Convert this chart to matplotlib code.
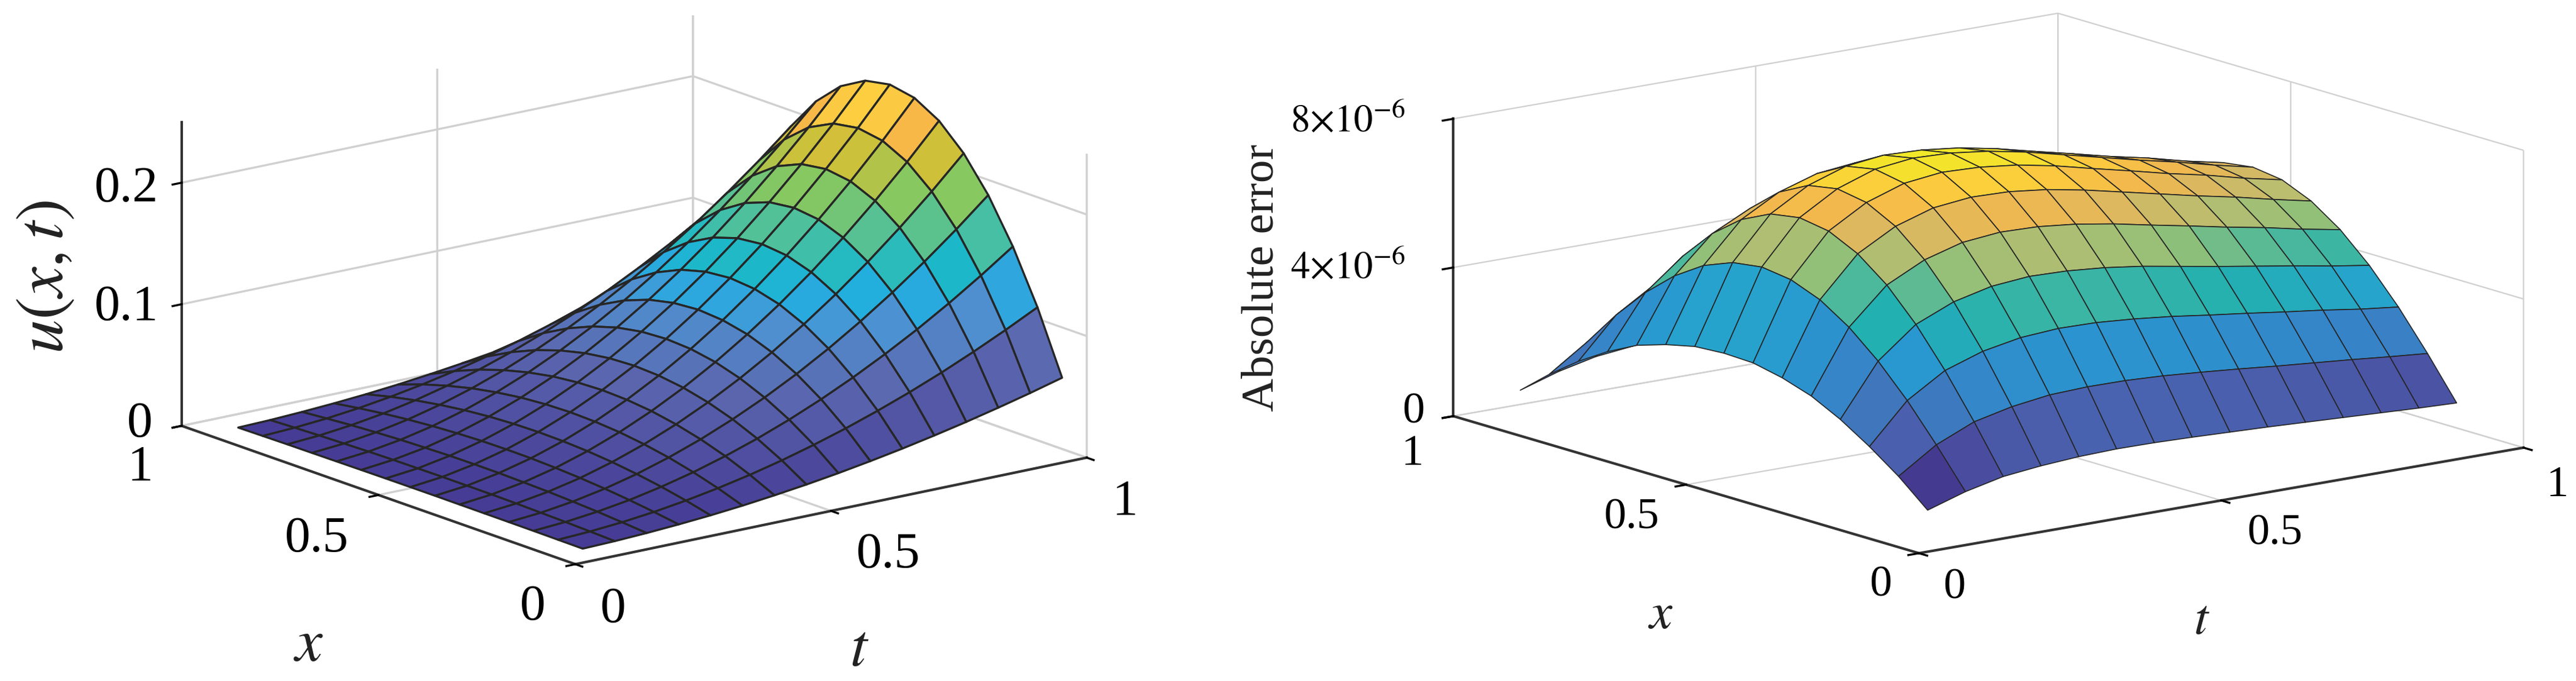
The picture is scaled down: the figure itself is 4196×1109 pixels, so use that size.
import numpy as np
import matplotlib
matplotlib.use("Agg")
import matplotlib.pyplot as plt
from matplotlib.colors import LinearSegmentedColormap
from matplotlib.transforms import offset_copy
from mpl_toolkits.mplot3d import proj3d

# ---------- data ----------
x_nodes = [1/16, 2/16, 3/16, 4/16, 5/16, 6/16, 7/16, 8/16, 9/16, 10/16, 11/16, 12/16, 13/16, 14/16, 15/16]
t_left = [1/16, 2/16, 3/16, 4/16, 5/16, 6/16, 7/16, 8/16, 9/16, 10/16, 11/16, 12/16, 13/16, 14/16, 15/16, 1.0]
t_right = t_left[:15]

u_values = [
 [.0002,.0004,.0006,.0007,.0008,.0009,.0010,.0010,.0010,.0009,.0008,.0007,.0006,.0004,.0002],
 [.0009,.0017,.0024,.0029,.0034,.0037,.0038,.0039,.0038,.0037,.0034,.0029,.0024,.0017,.0009],
 [.0021,.0038,.0054,.0066,.0076,.0082,.0087,.0088,.0087,.0082,.0076,.0066,.0054,.0038,.0021],
 [.0037,.0068,.0095,.0117,.0134,.0146,.0154,.0156,.0154,.0146,.0134,.0117,.0095,.0068,.0037],
 [.0057,.0107,.0149,.0183,.0210,.0229,.0240,.0244,.0240,.0229,.0210,.0183,.0149,.0107,.0057],
 [.0082,.0154,.0214,.0264,.0302,.0330,.0346,.0352,.0346,.0330,.0302,.0264,.0214,.0154,.0082],
 [.0112,.0209,.0292,.0359,.0411,.0449,.0471,.0479,.0471,.0449,.0411,.0359,.0292,.0209,.0112],
 [.0146,.0273,.0381,.0469,.0537,.0586,.0615,.0625,.0615,.0586,.0537,.0469,.0381,.0273,.0146],
 [.0185,.0346,.0482,.0593,.0680,.0742,.0779,.0791,.0779,.0742,.0680,.0593,.0482,.0346,.0185],
 [.0229,.0427,.0595,.0732,.0839,.0916,.0961,.0977,.0961,.0916,.0839,.0732,.0595,.0427,.0229],
 [.0277,.0517,.0720,.0886,.1015,.1108,.1163,.1182,.1163,.1108,.1015,.0886,.0720,.0517,.0277],
 [.0330,.0615,.0857,.1055,.1208,.1318,.1384,.1406,.1384,.1318,.1208,.1055,.0857,.0615,.0330],
 [.0387,.0722,.1005,.1238,.1418,.1547,.1625,.1650,.1625,.1547,.1418,.1238,.1005,.0722,.0387],
 [.0449,.0838,.1166,.1436,.1645,.1795,.1884,.1914,.1884,.1795,.1645,.1436,.1166,.0838,.0449],
 [.0515,.0962,.1339,.1648,.1888,.2060,.2163,.2197,.2163,.2060,.1888,.1648,.1339,.0962,.0515],
 [.0586,.1094,.1523,.1875,.2148,.2344,.2461,.2500,.2461,.2344,.2148,.1875,.1523,.1094,.0586],
]

err_values = [  # in units of 1e-6
 [.75,1.43,2.00,2.50,2.90,3.16,3.33,3.36,3.31,3.13,2.88,2.48,1.99,1.41,.75],
 [1.07,2.10,3.06,3.89,4.57,5.08,5.39,5.50,5.39,5.08,4.57,3.89,3.06,2.10,1.07],
 [1.30,2.54,3.69,4.70,5.53,6.14,6.52,6.65,6.52,6.14,5.53,4.70,3.69,2.54,1.30],
 [1.41,2.77,4.03,5.13,6.03,6.70,7.11,7.25,7.11,6.70,6.03,5.13,4.03,2.77,1.41],
 [1.48,2.91,4.22,5.37,6.32,7.02,7.45,7.60,7.45,7.02,6.32,5.37,4.22,2.91,1.48],
 [1.51,2.95,4.29,5.46,6.42,7.13,7.57,7.72,7.57,7.13,6.42,5.46,4.29,2.95,1.51],
 [1.50,2.94,4.27,5.43,6.39,7.10,7.53,7.68,7.53,7.10,6.39,5.43,4.27,2.94,1.50],
 [1.47,2.89,4.19,5.34,6.28,6.98,7.41,7.55,7.41,6.98,6.28,5.34,4.19,2.89,1.47],
 [1.43,2.81,4.08,5.20,6.11,6.79,7.21,7.35,7.21,6.79,6.11,5.20,4.08,2.81,1.43],
 [1.39,2.72,3.94,5.02,5.90,6.56,6.96,7.10,6.96,6.56,5.90,5.02,3.94,2.72,1.39],
 [1.34,2.62,3.81,4.84,5.70,6.33,6.72,6.85,6.72,6.33,5.70,4.84,3.81,2.62,1.34],
 [1.29,2.53,3.67,4.67,5.49,6.10,6.47,6.60,6.47,6.10,5.49,4.67,3.67,2.53,1.29],
 [1.24,2.44,3.54,4.50,5.30,5.89,6.25,6.37,6.25,5.89,5.30,4.50,3.54,2.44,1.24],
 [1.19,2.34,3.39,4.32,5.08,5.65,5.99,6.11,5.99,5.65,5.08,4.32,3.39,2.34,1.19],
 [1.15,2.25,3.27,4.16,4.89,5.43,5.77,5.88,5.77,5.43,4.89,4.16,3.27,2.25,1.15],
]

xy_ticks = [0, 0.5, 1]
xy_labels = ["0", "0.5", "1"]
z_ticks_left = [0, 0.1, 0.2]
z_labels_left = ["0", "0.1", "0.2"]
z_ticks_right = [0, 4e-6, 8e-6]
z_labels_right = ["0", r"$4{\times}10^{-6}$", r"$8{\times}10^{-6}$"]

# ---------- style ----------
W, H = 4196, 1109
DPI = 100
plt.rcParams["font.family"] = ["Liberation Serif", "DejaVu Serif"]
plt.rcParams["mathtext.fontset"] = "stix"
DARK = "#333333"

cmap_left = LinearSegmentedColormap.from_list("pl", [
    (0.0, "#463c95"), (.2, "#5b68b0"), (.336, "#4f90d0"), (.384, "#2fa6de"), (.42, "#22aee0"),
    (.468, "#1cb8c8"), (.536, "#45bfa5"), (.66, "#88c860"), (.76, "#d0c038"), (.824, "#f8b848"),
    (.88, "#fdd040"), (1.0, "#f0e828")])
cmap_right = LinearSegmentedColormap.from_list("pr", [
    (0.0, "#443a8f"), (.05, "#4a4ea0"), (.10, "#4a60ae"), (.18, "#4076bb"), (.25, "#3585c8"),
    (.325, "#2a95d0"), (.375, "#26a3cd"), (.45, "#22b0b0"), (.55, "#4cb89c"), (.62, "#90c078"),
    (.70, "#b8bd70"), (.77, "#dcb860"), (.83, "#f2b84d"), (.90, "#fcc93f"), (.95, "#f8dc30"),
    (1.0, "#f0e828")])


def style_axis(ax, grid_lw, line_lw):
    for axis in (ax.xaxis, ax.yaxis, ax.zaxis):
        axis.set_pane_color((1, 1, 1, 0))
        axis.pane.set_edgecolor("none")
        axis.line.set_color(DARK)
        axis.line.set_linewidth(line_lw)
        axis._axinfo["grid"].update(color="#d0d0d0", linewidth=grid_lw)
        axis._axinfo["tick"].update(inward_factor=0.22, outward_factor=0.0,
                                    linewidth={True: line_lw * 0.8, False: line_lw * 0.8}, color=DARK)


def fit_axes(ax, corners, targets):
    """Place the square 3D axes so that data corners land on the wanted pixels."""
    M = ax.get_proj()
    vx, vy, _ = proj3d.proj_transform(*np.array(corners, float).T, M)
    tx, ty = np.array(targets, float).T
    ty = H - ty
    xl, yl = ax.viewLim.intervalx, ax.viewLim.intervaly
    fx = (np.asarray(vx) - xl[0]) / (xl[1] - xl[0])
    fy = (np.asarray(vy) - yl[0]) / (yl[1] - yl[0])
    A = np.concatenate([np.c_[fx, np.ones_like(fx), np.zeros_like(fx)],
                        np.c_[fy, np.zeros_like(fy), np.ones_like(fy)]])
    b = np.concatenate([tx, ty])
    S, l, bt = np.linalg.lstsq(A, b, rcond=None)[0]
    ax.set_position([l / W, bt / H, S / W, S / H])


def nudge(fig, labels, shifts):
    """Shift tick labels by a few pixels to the place MATLAB gave them."""
    for lab, (dx, dy) in zip(labels, shifts):
        lab.set_transform(offset_copy(lab.get_transform(), fig=fig, x=dx, y=dy, units="dots"))
        lab.set_transform = lambda *_: None  # Axis3D resets it at every draw


def build(fig, X_vals, T_vals, Z_vals, norm_max, norm_min, cmap, zlim, ztick, zlab, view, aspect,
          corners_px, surf_lw, grid_lw, line_lw, tick_fs, pad):
    ax = fig.add_axes([0.1, 0.1, 300 / W, 300 / H], projection="3d", computed_zorder=False)
    ax.set_proj_type("ortho")
    X, T = np.meshgrid(X_vals, T_vals)
    Z = np.array(Z_vals, float)
    fc = cmap(np.clip((Z - norm_min) / (norm_max - norm_min), 0, 1))
    ax.plot_surface(T, X, Z, facecolors=fc, rstride=1, cstride=1, shade=False,
                    edgecolor="#262626", linewidth=surf_lw, antialiased=True)
    ax.set_xlim(0, 1, view_margin=0)
    ax.set_ylim(0, 1, view_margin=0)
    ax.set_zlim(zlim[0], zlim[1], view_margin=0)
    ax.view_init(elev=view[0], azim=view[1])
    ax.set_box_aspect(aspect)
    ax.set_xticks(xy_ticks, xy_labels, fontsize=tick_fs, ha="left")
    ax.set_yticks(xy_ticks, xy_labels, fontsize=tick_fs, ha="right")
    ax.set_zticks(ztick, zlab, fontsize=tick_fs, ha="right")
    ax.zaxis.set_ticks_position("upper")
    ax.tick_params(axis="both", pad=pad)
    style_axis(ax, grid_lw, line_lw)
    f, l, r, top = corners_px
    fit_axes(ax, [(0, 0, zlim[0]), (0, 1, zlim[0]), (1, 0, zlim[0]), (0, 1, zlim[1])], [f, l, r, top])
    return ax


def px_text(fig, px, py, s, **kw):
    fig.text(px / W, 1 - py / H, s, ha="center", va="center", color="#222222", **kw)


fig = plt.figure(figsize=(W / DPI, H / DPI), dpi=DPI, facecolor="white")

axL = build(fig, x_nodes, t_left, u_values, 0.25, 0.0, cmap_left, (0, 0.25), z_ticks_left, z_labels_left,
            (15.7, -127.6), (1, 1, 0.489), [(937, 919), (296, 693), (1770, 746), (296, 198)],
            2.4, 2.4, 3.0, 60, 24)
nudge(fig, axL.get_zticklabels(), [(35, 37), (45, 29), (45, 24)])
nudge(fig, axL.get_xticklabels(), [(5, 4), (5, 6), (6, 5)])
nudge(fig, axL.get_yticklabels(), [(-2, 5), (-2, 3), (0, 7)])
px_text(fig, 1400, 1060, r"$t$", fontsize=72)
px_text(fig, 503, 1052, r"$x$", fontsize=72)
px_text(fig, 76, 451, r"$u(x,t)$", fontsize=80, rotation=90)

axR = build(fig, x_nodes, t_right, err_values, 7.72, 0.73, cmap_right, (0, 8.0), [v * 1e6 for v in z_ticks_right],
            z_labels_right, (13.1, -127.6), (1, 1, 0.40), [(3127, 902), (2367, 677), (4110, 728), (2367, 194)],
            1.2, 1.6, 3.0, 52, 22)
for lab in axR.get_zticklabels()[1:]:
    lab.set_fontsize(45)
nudge(fig, axR.get_zticklabels(), [(32, 37), (0, 24), (0, 21)])
nudge(fig, axR.get_xticklabels(), [(5, 8), (8, 10), (3, 3)])
nudge(fig, axR.get_yticklabels(), [(0, 10), (0, 8), (-4, 0)])
px_text(fig, 3586, 1012, r"$t$", fontsize=60)
px_text(fig, 2705, 1003, r"$x$", fontsize=60)
px_text(fig, 2056, 452, "Absolute error", fontsize=54, rotation=90)

fig.savefig("out.png", dpi=DPI, facecolor="white")
